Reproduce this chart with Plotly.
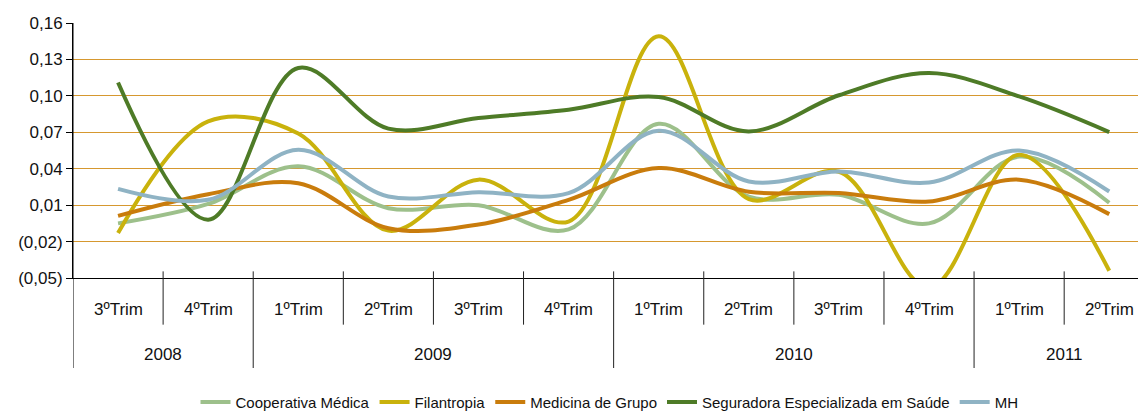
import plotly.graph_objects as go

quarters = ["3ºTrim", "4ºTrim", "1ºTrim", "2ºTrim", "3ºTrim", "4ºTrim",
            "1ºTrim", "2ºTrim", "3ºTrim", "4ºTrim", "1ºTrim", "2ºTrim"]
years = ["2008", "2009", "2010", "2011"]
year_spans = [(0, 1), (2, 5), (6, 9), (10, 11)]

cooperativa = [-0.005, 0.011, 0.042, 0.0075, 0.010, -0.010, 0.077, 0.017, 0.0185, -0.005, 0.050, 0.012]
filantropia = [-0.013, 0.079, 0.069, -0.011, 0.031, -0.0035, 0.149, 0.015, 0.0375, -0.058, 0.0515, -0.044]
medicina = [0.0012, 0.019, 0.028, -0.009, -0.006, 0.0144, 0.0405, 0.021, 0.020, 0.013, 0.031, 0.0026]
seguradora = [0.111, -0.002, 0.123, 0.073, 0.0817, 0.0886, 0.099, 0.0707, 0.1005, 0.1188, 0.0995, 0.0702]
mh = [0.0234, 0.0144, 0.0556, 0.0171, 0.0207, 0.0199, 0.0713, 0.0295, 0.0377, 0.0286, 0.055, 0.0212]

series = [
    ("Cooperativa Médica", cooperativa, "#9dc08b"),
    ("Filantropia", filantropia, "#c9b20c"),
    ("Medicina de Grupo", medicina, "#c97c0c"),
    ("Seguradora Especializada em Saúde", seguradora, "#4e7b27"),
    ("MH", mh, "#8fb3c4"),
]

ytick_vals = [0.16, 0.13, 0.10, 0.07, 0.04, 0.01, -0.02, -0.05]
ytick_text = ["0,16", "0,13", "0,10", "0,07", "0,04", "0,01", "(0,02)", "(0,05)"]

FONT = "Liberation Sans, Arial, sans-serif"

fig = go.Figure()
xs = list(range(len(quarters)))
for name, vals, color in series:
    fig.add_trace(go.Scatter(
        x=xs, y=vals, name=name, mode="lines",
        line=dict(color=color, width=4, shape="spline", smoothing=1.0),
    ))

shapes = []
shapes.append(dict(type="line", xref="x", yref="paper", x0=-0.5, x1=-0.5, y0=1, y1=-0.353,
                   line=dict(color="#000000", width=1)))
year_bounds = {1.5, 5.5, 9.5}
for i in range(len(quarters) - 1):
    b = i + 0.5
    y1 = -0.353 if b in year_bounds else -0.183
    shapes.append(dict(type="line", xref="x", yref="paper", x0=b, x1=b, y0=0.026, y1=y1,
                       line=dict(color="#222222", width=1)))

annotations = []
for i, q in enumerate(quarters):
    annotations.append(dict(x=i, y=-0.124, xref="x", yref="paper", text=q, showarrow=False,
                            font=dict(size=17, color="#111111", family=FONT),
                            xanchor="center", yanchor="middle"))
for yname, (a, b) in zip(years, year_spans):
    annotations.append(dict(x=(a + b) / 2, y=-0.301, xref="x", yref="paper", text=yname, showarrow=False,
                            font=dict(size=17, color="#111111", family=FONT),
                            xanchor="center", yanchor="middle"))

fig.update_layout(
    width=1146, height=416, autosize=False,
    margin=dict(l=65, r=8, t=15, b=146, pad=0, autoexpand=False),
    paper_bgcolor="white", plot_bgcolor="white",
    font=dict(family=FONT, color="#111111"),
    showlegend=True,
    legend=dict(orientation="h", x=0.5, xanchor="center", xref="paper",
                y=0.052, yanchor="middle", yref="container",
                font=dict(size=15, family=FONT, color="#111111"),
                itemwidth=30, tracegroupgap=0, bgcolor="rgba(0,0,0,0)"),
    xaxis=dict(range=[-0.5, 11.408], showgrid=False, zeroline=False, showticklabels=False,
               showline=True, linecolor="#000000", linewidth=1, ticks=""),
    yaxis=dict(range=[-0.05, 0.16], tickvals=ytick_vals, ticktext=ytick_text,
               showgrid=True, gridcolor="#d6982f", gridwidth=1, zeroline=False,
               showline=True, linecolor="#000000", linewidth=1,
               ticks="outside", ticklen=6, tickcolor="#000000",
               tickfont=dict(size=17, family=FONT, color="#111111")),
    shapes=shapes, annotations=annotations,
)

fig.write_html("out.html")
